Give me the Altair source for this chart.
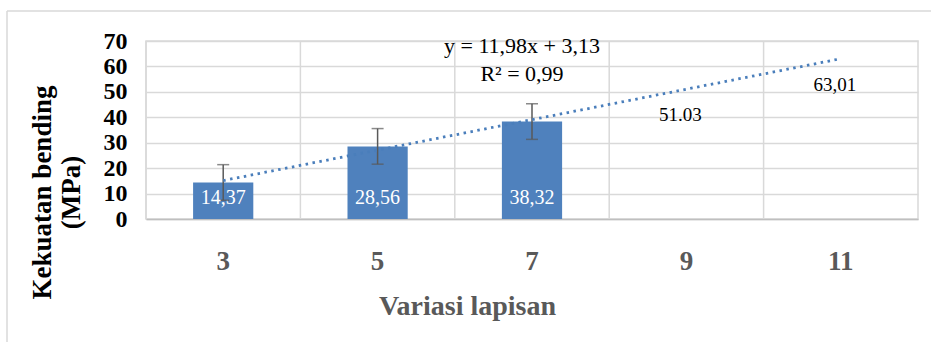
import altair as alt
import pandas as pd

# Layer variations (x categories) and measured bending strength
categories = ["3", "5", "7", "9", "11"]
bar_cats = ["3", "5", "7"]
strength = [14.37, 28.56, 38.32]
std_err = [7.0, 7.0, 7.0]

# Predicted values from the linear trend for the untested variations
pred_cats = ["9", "11"]
pred_values = [51.03, 63.01]
pred_texts = ["51.03", "63,01"]

# Trend line y = 11,98x + 3,13 (x = category index 1..5), end points
trend_cats = ["3", "11"]
trend_values = [15.11, 63.03]

equation = ["y = 11,98x + 3,13", "R\u00b2 = 0,99"]

SERIF = "Liberation Serif"
GRID = "#d9d9d9"
BLUE = "#4f81bd"

bars_df = pd.DataFrame({
    "cat": bar_cats,
    "v": strength,
    "lo": [v - e for v, e in zip(strength, std_err)],
    "hi": [v + e for v, e in zip(strength, std_err)],
    "label": [f"{v:.2f}".replace(".", ",") for v in strength],
})
pred_df = pd.DataFrame({"cat": pred_cats, "v": pred_values, "label": pred_texts})
trend_df = pd.DataFrame({"cat": trend_cats, "v": trend_values})
cats_df = pd.DataFrame({"cat": categories})
eq1_df = pd.DataFrame({"t": [equation[0]]})
eq2_df = pd.DataFrame({"t": [equation[1]]})
one_df = pd.DataFrame({"k": [0]})

x_scale = alt.Scale(domain=categories, paddingInner=0, paddingOuter=0)
y_scale = alt.Scale(domain=[0, 70])

x_axis = alt.Axis(
    title="Variasi lapisan", labelAngle=0, grid=False, ticks=False,
    domainColor="#bfbfbf", domainWidth=1.5,
    labelFont=SERIF, labelFontSize=27, labelFontWeight="bold",
    labelColor="#595959", labelPadding=29,
    titleFont=SERIF, titleFontSize=28, titleFontWeight="bold",
    titleColor="#595959", titlePadding=18, titleX=321, titleAnchor="middle",
    titleAlign="center",
)
y_axis = alt.Axis(
    title=["Kekuatan bending", "(MPa)"], values=list(range(0, 71, 10)),
    grid=True, gridColor=GRID, gridWidth=1.5, domain=False, ticks=False,
    labelFont=SERIF, labelFontSize=24, labelFontWeight="bold",
    labelColor="#000000", labelPadding=19, labelOverlap=False,
    labelBound=False,
    titleFont=SERIF, titleFontSize=27, titleFontWeight="bold",
    titleColor="#000000", titleLineHeight=29, titleY=151, titleX=-90,
    titleAnchor="middle",
)


def xc(**kw):
    return alt.X("cat:O", scale=x_scale, sort=categories, axis=x_axis, **kw)


def yq(field):
    return alt.Y(field, scale=y_scale, axis=y_axis)


bars = alt.Chart(bars_df).mark_bar(
    color=BLUE, width=alt.RelativeBandSize(0.39)
).encode(x=xc(), y=yq("v:Q"))

# vertical grid lines at the category boundaries
vgrid = alt.Chart(cats_df).mark_rule(color=GRID, strokeWidth=1.5).encode(
    x=xc(bandPosition=0),
)

err_rule = alt.Chart(bars_df).mark_rule(color="#595959", strokeWidth=1.5).encode(
    x=xc(), y=yq("lo:Q"), y2="hi:Q",
)
err_lo = alt.Chart(bars_df).mark_tick(
    color="#595959", orient="horizontal", size=12, thickness=1.5
).encode(x=xc(), y=yq("lo:Q"))
err_hi = alt.Chart(bars_df).mark_tick(
    color="#595959", orient="horizontal", size=12, thickness=1.5
).encode(x=xc(), y=yq("hi:Q"))

bar_labels = alt.Chart(bars_df).mark_text(
    font=SERIF, fontSize=20, color="white", baseline="alphabetic", dy=-15
).encode(
    x=xc(),
    y=alt.datum(0, scale=y_scale, axis=y_axis),
    text="label:N",
)

trend = alt.Chart(trend_df).mark_line(
    color="#4a7ebb", strokeWidth=2.8, strokeDash=[2.5, 4.5], strokeCap="butt"
).encode(x=xc(), y=yq("v:Q"))

pred_labels = alt.Chart(pred_df).mark_text(
    font=SERIF, fontSize=19, color="#000000", baseline="middle", dy=26, dx=-6
).encode(x=xc(), y=yq("v:Q"), text="label:N")

# regression equation and R² annotation
eq_line1 = alt.Chart(eq1_df).mark_text(
    font=SERIF, fontSize=22, color="#000000", baseline="middle", align="center",
).encode(x=alt.value(376), y=alt.value(5), text="t:N")
eq_line2 = alt.Chart(eq2_df).mark_text(
    font=SERIF, fontSize=22, color="#000000", baseline="middle", align="center",
).encode(x=alt.value(376), y=alt.value(33), text="t:N")

# light frame lines around the figure
frame_left = alt.Chart(one_df).mark_rule(color=GRID, strokeWidth=1.5).encode(
    x=alt.value(-139), y=alt.value(-30), y2=alt.value(301)
)
frame_top = alt.Chart(one_df).mark_rule(color=GRID, strokeWidth=1.5).encode(
    x=alt.value(-139), x2=alt.value(785), y=alt.value(-30)
)

chart = alt.layer(
    bars, vgrid, err_rule, err_lo, err_hi, bar_labels, trend, pred_labels,
    eq_line1, eq_line2, frame_left, frame_top,
).properties(
    width=772, height=178,
    autosize=alt.AutoSizeParams(type="none"),
    padding={"left": 146, "top": 41, "right": 13, "bottom": 123},
    background="white",
).configure_view(stroke=GRID, strokeWidth=1.5)

chart.save("out.html", embed_options={"renderer": "svg", "actions": False})
